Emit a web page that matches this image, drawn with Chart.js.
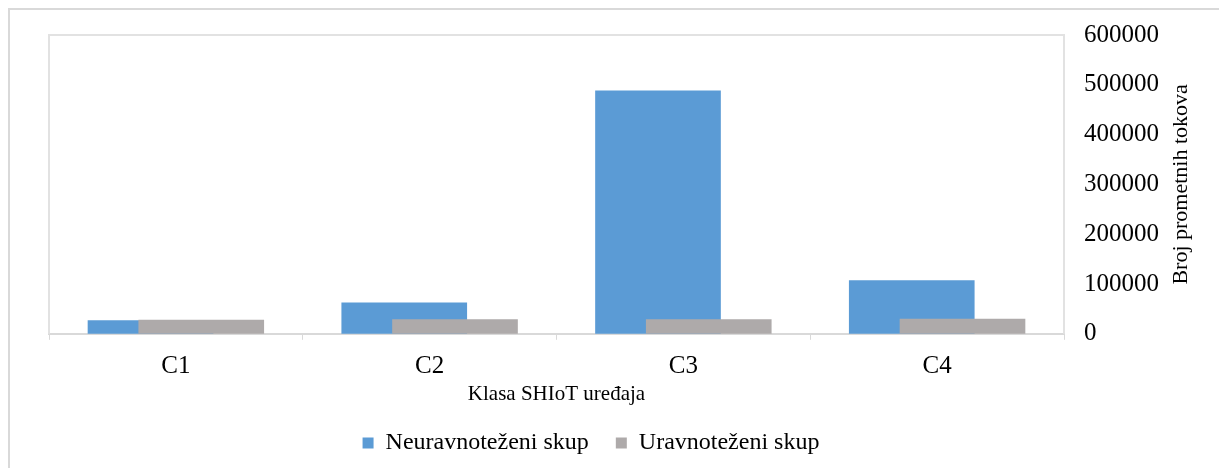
<!DOCTYPE html>
<html>
<head>
<meta charset="utf-8">
<title>Broj prometnih tokova po klasi SHIoT uređaja</title>
<script src="https://cdn.jsdelivr.net/npm/chart.js@4.4.1/dist/chart.umd.min.js"></script>
<style>
  html, body { margin: 0; padding: 0; background: #fff; }
  #wrap { position: relative; width: 1219px; height: 468px; overflow: hidden; }
  #frame {
    position: absolute; left: 8px; top: 8px; width: 1300px; height: 500px;
    border-left: 2px solid #d9d9d9; border-top: 2px solid #d9d9d9;
  }
  #chart { position: absolute; left: 0; top: 0; }
</style>
</head>
<body>
<div id="wrap">
  <div id="frame"></div>
  <canvas id="chart" width="1219" height="468"></canvas>
</div>
<script>
// broj tokova po klasi uređaja
const categories = ['C1', 'C2', 'C3', 'C4'];
const unbalanced = [26500, 62000, 488000, 107000];
const balanced = [27500, 28500, 28500, 29500];
const yTicks = [0, 100000, 200000, 300000, 400000, 500000, 600000];

const serif = '"Liberation Serif", "Times New Roman", serif';
const BLUE = '#5B9BD5';
const GRAY = '#AEAAAA';

// parovi (indeks klase, vrijednost) za linearne osi stupaca
const toPoints = arr => arr.map((v, i) => ({ x: i, y: v }));

// okvir oko područja crtanja (lijevo, gore, desno)
const plotFrame = {
    id: 'plotFrame',
    beforeDatasetsDraw(chart) {
        const { ctx, chartArea: a } = chart;
        ctx.save();
        ctx.strokeStyle = '#e2e2e2';
        ctx.lineWidth = 2;
        ctx.beginPath();
        ctx.moveTo(a.left, a.bottom);
        ctx.lineTo(a.left, a.top);
        ctx.lineTo(a.right, a.top);
        ctx.lineTo(a.right, a.bottom);
        ctx.stroke();
        ctx.restore();
    }
};

// naslov desne osi, čita se odozdo prema gore
const yTitle = {
    id: 'yTitle',
    afterDraw(chart) {
        const { ctx, chartArea: a } = chart;
        const y = chart.scales.y;
        ctx.save();
        ctx.translate(y.left + 117, (a.top + a.bottom) / 2);
        ctx.rotate(-Math.PI / 2);
        ctx.textAlign = 'center';
        ctx.textBaseline = 'middle';
        ctx.fillStyle = '#000';
        ctx.font = '22px ' + serif;
        ctx.fillText('Broj prometnih tokova', 0, 0);
        ctx.restore();
    }
};

new Chart(document.getElementById('chart'), {
    type: 'bar',
    data: {
        labels: categories,
        datasets: [
            {
                label: 'Neuravnoteženi skup',
                data: toPoints(unbalanced),
                backgroundColor: BLUE,
                xAxisID: 'xb',
                yAxisID: 'y',
                grouped: false,
                barThickness: 125,
                order: 1
            },
            {
                label: 'Uravnoteženi skup',
                data: toPoints(balanced),
                backgroundColor: GRAY,
                xAxisID: 'xg',
                yAxisID: 'y',
                grouped: false,
                barThickness: 125,
                order: 0
            }
        ]
    },
    options: {
        responsive: false,
        animation: false,
        layout: { padding: { left: 0, top: 34, right: 37, bottom: 3 } },
        scales: {
            x: {
                type: 'category',
                position: 'bottom',
                offset: true,
                grid: {
                    display: true,
                    offset: true,
                    drawOnChartArea: false,
                    drawTicks: true,
                    tickLength: 6,
                    color: '#d9d9d9'
                },
                border: { display: true, color: '#d9d9d9', width: 2 },
                ticks: { color: '#000', padding: 12, font: { family: serif, size: 25 } },
                title: {
                    display: true,
                    text: 'Klasa SHIoT uređaja',
                    color: '#000',
                    padding: { top: -12, bottom: -3 },
                    font: { family: serif, size: 21 }
                }
            },
            // pomaknute osi za preklopljene stupce
            xb: { type: 'linear', display: false, offset: false, min: -0.4, max: 3.6 },
            xg: { type: 'linear', display: false, offset: false, min: -0.6, max: 3.4 },
            // prazan razmak lijevo od područja crtanja
            yPad: {
                type: 'linear',
                position: 'left',
                grid: { display: false },
                border: { display: false },
                ticks: { display: false },
                afterFit: axis => { axis.width = 49; }
            },
            y: {
                type: 'linear',
                position: 'right',
                min: 0,
                max: 600000,
                afterBuildTicks: axis => { axis.ticks = yTicks.map(v => ({ value: v })); },
                afterFit: axis => { axis.width = 118; },
                grid: { display: false, drawTicks: false },
                border: { display: false },
                ticks: {
                    color: '#000',
                    padding: 20,
                    font: { family: serif, size: 25 },
                    callback: v => String(v)
                }
            }
        },
        plugins: {
            legend: {
                position: 'bottom',
                labels: {
                    color: '#000',
                    boxWidth: 11,
                    boxHeight: 11,
                    padding: 27,
                    font: { family: serif, size: 24 },
                    sort: (a, b) => a.datasetIndex - b.datasetIndex
                }
            },
            tooltip: { enabled: false }
        }
    },
    plugins: [plotFrame, yTitle]
});
</script>
</body>
</html>
